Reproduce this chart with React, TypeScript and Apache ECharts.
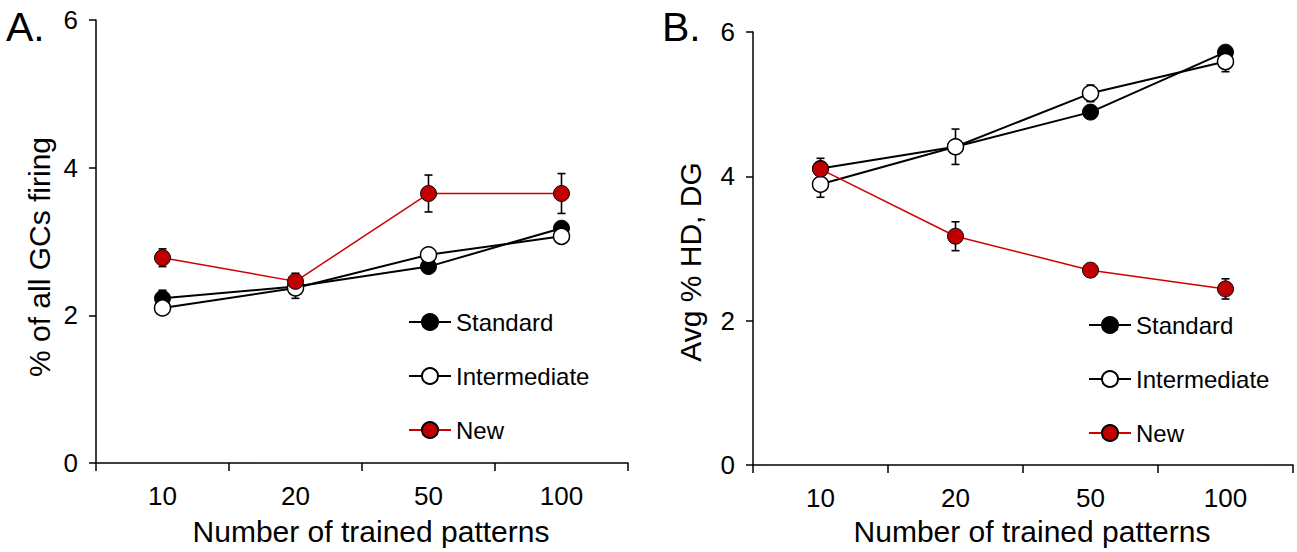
import React, { useEffect, useRef } from 'react';
import * as echarts from 'echarts';

const categories = ['10', '20', '50', '100'];
const seriesNames = ['Standard', 'Intermediate', 'New'];

// Panel A: % of all GCs firing
const standardA = [2.23, 2.39, 2.66, 3.18];
const standardErrA = [0.11, 0.08, 0.05, 0.05];
const intermediateA = [2.1, 2.37, 2.82, 3.07];
const intermediateErrA = [0.05, 0.14, 0.05, 0.05];
const newA = [2.78, 2.46, 3.65, 3.65];
const newErrA = [0.12, 0.11, 0.25, 0.27];

// Panel B: Avg % HD, DG
const standardB = [4.11, 4.41, 4.89, 5.72];
const standardErrB = [0.14, 0.08, 0.08, 0.05];
const intermediateB = [3.89, 4.41, 5.15, 5.59];
const intermediateErrB = [0.18, 0.245, 0.115, 0.14];
const newB = [4.1, 3.17, 2.7, 2.44];
const newErrB = [0.06, 0.2, 0.06, 0.14];

const yTicks = [0, 2, 4, 6];

const FONT = "'Liberation Sans', Arial, sans-serif";

const styles: Record<string, any> = {
  Standard: {
    itemStyle: { color: '#000', borderColor: '#000', borderWidth: 1 },
    lineStyle: { color: '#000', width: 2 },
  },
  Intermediate: {
    itemStyle: { color: '#fff', borderColor: '#000', borderWidth: 1.5 },
    lineStyle: { color: '#000', width: 2 },
  },
  New: {
    itemStyle: { color: '#c00000', borderColor: '#000', borderWidth: 1 },
    lineStyle: { color: '#d00000', width: 1.5 },
  },
};

function errRenderItem(params: any, api: any) {
  const x = api.value(0);
  const lo = api.value(1);
  const hi = api.value(2);
  const p1 = api.coord([x, hi]);
  const p2 = api.coord([x, lo]);
  const w = 4;
  const style = { stroke: '#000', lineWidth: 1.6 };
  return {
    type: 'group',
    children: [
      { type: 'line', shape: { x1: p1[0], y1: p1[1], x2: p2[0], y2: p2[1] }, style },
      { type: 'line', shape: { x1: p1[0] - w, y1: p1[1], x2: p1[0] + w, y2: p1[1] }, style },
      { type: 'line', shape: { x1: p2[0] - w, y1: p2[1], x2: p2[0] + w, y2: p2[1] }, style },
    ],
  };
}

function errData(means: number[], errs: number[]) {
  return means.map((m, i) => [i, m - errs[i], m + errs[i]]);
}

function lineSeries(name: string, data: number[], idx: number) {
  return {
    type: 'line',
    name,
    data,
    xAxisIndex: idx,
    yAxisIndex: idx,
    symbol: 'circle',
    symbolSize: 16,
    z: 3,
    ...styles[name],
  };
}

function errSeries(name: string, means: number[], errs: number[], idx: number) {
  return {
    type: 'custom',
    name,
    xAxisIndex: idx,
    yAxisIndex: idx,
    z: 2,
    renderItem: errRenderItem,
    encode: { x: 0, y: [1, 2] },
    data: errData(means, errs),
  };
}

function xAxisCfg(gridIndex: number) {
  return {
    type: 'category',
    gridIndex,
    data: categories,
    boundaryGap: true,
    axisLine: { lineStyle: { color: '#000', width: 1.5 } },
    axisTick: { show: true, inside: false, length: 8, lineStyle: { color: '#000', width: 1.5 } },
    axisLabel: { color: '#000', fontSize: 26, fontFamily: FONT, margin: 20 },
    splitLine: { show: false },
  };
}

function yAxisCfg(gridIndex: number) {
  return {
    type: 'value',
    gridIndex,
    min: yTicks[0],
    max: yTicks[yTicks.length - 1],
    interval: 2,
    axisLine: { show: true, lineStyle: { color: '#000', width: 1.5 } },
    axisTick: { show: true, inside: false, length: 7, lineStyle: { color: '#000', width: 1.5 } },
    axisLabel: { color: '#000', fontSize: 26, fontFamily: FONT, margin: 18 },
    splitLine: { show: false },
  };
}

function legendCfg(left: number, top: number) {
  return {
    data: seriesNames,
    orient: 'vertical',
    left,
    top,
    padding: 0,
    itemWidth: 42,
    itemHeight: 20,
    itemGap: 30,
    selectedMode: false,
    textStyle: { fontSize: 24, fontFamily: FONT, color: '#000' },
  };
}

export default function App() {
  const ref = useRef<HTMLDivElement>(null);
  useEffect(() => {
    if (!ref.current) return;
    const chart = echarts.init(ref.current, null, { renderer: 'svg' });
    const option: any = {
      animation: false,
      backgroundColor: '#fff',
      grid: [
        { left: 96, top: 20, width: 532, height: 443 },
        { left: 753, top: 32, width: 540, height: 433 },
      ],
      xAxis: [xAxisCfg(0), xAxisCfg(1)],
      yAxis: [yAxisCfg(0), yAxisCfg(1)],
      legend: [legendCfg(408, 310), legendCfg(1088, 313)],
      graphic: [
        {
          type: 'text', x: 6, y: 27,
          style: { text: 'A.', fontSize: 41, fontFamily: FONT, fill: '#000', align: 'left', verticalAlign: 'middle' },
        },
        {
          type: 'text', x: 662, y: 27,
          style: { text: 'B.', fontSize: 41, fontFamily: FONT, fill: '#000', align: 'left', verticalAlign: 'middle' },
        },
        {
          type: 'text', x: 371, y: 531,
          style: { text: 'Number of trained patterns', fontSize: 30, fontFamily: FONT, fill: '#000', align: 'center', verticalAlign: 'middle' },
        },
        {
          type: 'text', x: 1032, y: 531,
          style: { text: 'Number of trained patterns', fontSize: 30, fontFamily: FONT, fill: '#000', align: 'center', verticalAlign: 'middle' },
        },
        {
          type: 'text', x: 39, y: 257, rotation: Math.PI / 2,
          style: { text: '% of all GCs firing', fontSize: 30, fontFamily: FONT, fill: '#000', align: 'center', verticalAlign: 'middle' },
        },
        {
          type: 'text', x: 690, y: 262, rotation: Math.PI / 2,
          style: { text: 'Avg % HD, DG', fontSize: 30, fontFamily: FONT, fill: '#000', align: 'center', verticalAlign: 'middle' },
        },
      ],
      series: [
        errSeries('errStdA', standardA, standardErrA, 0),
        errSeries('errIntA', intermediateA, intermediateErrA, 0),
        errSeries('errNewA', newA, newErrA, 0),
        lineSeries('Standard', standardA, 0),
        lineSeries('Intermediate', intermediateA, 0),
        lineSeries('New', newA, 0),
        errSeries('errStdB', standardB, standardErrB, 1),
        errSeries('errIntB', intermediateB, intermediateErrB, 1),
        errSeries('errNewB', newB, newErrB, 1),
        lineSeries('Standard', standardB, 1),
        lineSeries('Intermediate', intermediateB, 1),
        lineSeries('New', newB, 1),
      ],
    };
    chart.setOption(option);
    return () => chart.dispose();
  }, []);
  return (
    <div
      ref={ref}
      style={{ position: 'fixed', left: 0, top: 0, width: 1297, height: 552, background: '#fff' }}
    />
  );
}
